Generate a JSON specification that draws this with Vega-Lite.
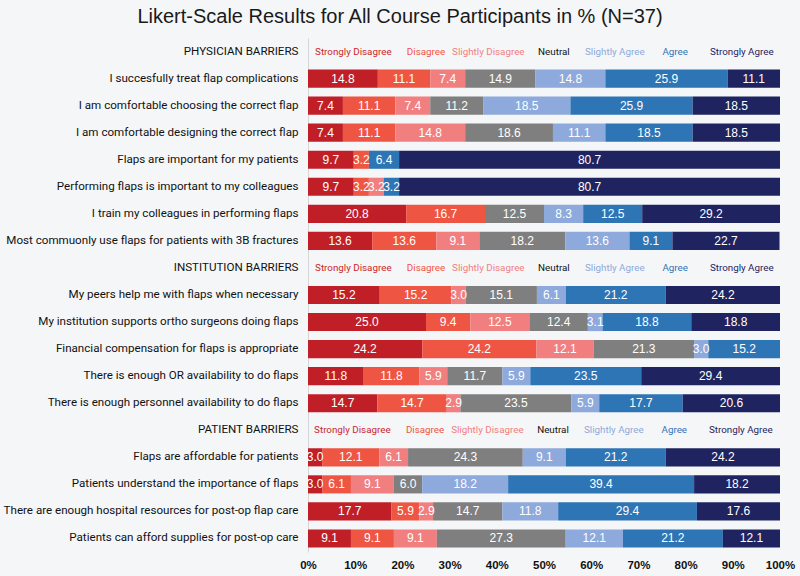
{
  "$schema": "https://vega.github.io/schema/vega-lite/v6.json",
  "width": 472,
  "height": 514,
  "autosize": {"type": "none"},
  "padding": {"left": 308, "top": 38, "right": 20, "bottom": 24},
  "background": "#F5F6F8",
  "title": {
    "text": "Likert-Scale Results for All Course Participants in % (N=37)",
    "font": "Liberation Sans",
    "fontSize": 20,
    "fontWeight": "normal",
    "color": "#1a1a1a",
    "anchor": "middle",
    "frame": "group",
    "dx": -144,
    "offset": 11
  },
  "config": {
    "view": {"stroke": null},
    "font": "Roboto"
  },
  "datasets": {
    "d": [
      {"q": "I succesfully treat flap complications", "c": "Strongly Disagree", "v": 14.8},
      {"q": "I succesfully treat flap complications", "c": "Disagree", "v": 11.1},
      {"q": "I succesfully treat flap complications", "c": "Slightly Disagree", "v": 7.4},
      {"q": "I succesfully treat flap complications", "c": "Neutral", "v": 14.9},
      {"q": "I succesfully treat flap complications", "c": "Slightly Agree", "v": 14.8},
      {"q": "I succesfully treat flap complications", "c": "Agree", "v": 25.9},
      {"q": "I succesfully treat flap complications", "c": "Strongly Agree", "v": 11.1},

      {"q": "I am comfortable choosing the correct flap", "c": "Strongly Disagree", "v": 7.4},
      {"q": "I am comfortable choosing the correct flap", "c": "Disagree", "v": 11.1},
      {"q": "I am comfortable choosing the correct flap", "c": "Slightly Disagree", "v": 7.4},
      {"q": "I am comfortable choosing the correct flap", "c": "Neutral", "v": 11.2},
      {"q": "I am comfortable choosing the correct flap", "c": "Slightly Agree", "v": 18.5},
      {"q": "I am comfortable choosing the correct flap", "c": "Agree", "v": 25.9},
      {"q": "I am comfortable choosing the correct flap", "c": "Strongly Agree", "v": 18.5},

      {"q": "I am comfortable designing the correct flap", "c": "Strongly Disagree", "v": 7.4},
      {"q": "I am comfortable designing the correct flap", "c": "Disagree", "v": 11.1},
      {"q": "I am comfortable designing the correct flap", "c": "Slightly Disagree", "v": 14.8},
      {"q": "I am comfortable designing the correct flap", "c": "Neutral", "v": 18.6},
      {"q": "I am comfortable designing the correct flap", "c": "Slightly Agree", "v": 11.1},
      {"q": "I am comfortable designing the correct flap", "c": "Agree", "v": 18.5},
      {"q": "I am comfortable designing the correct flap", "c": "Strongly Agree", "v": 18.5},

      {"q": "Flaps are important for my patients", "c": "Strongly Disagree", "v": 9.7},
      {"q": "Flaps are important for my patients", "c": "Disagree", "v": 3.2},
      {"q": "Flaps are important for my patients", "c": "Agree", "v": 6.4},
      {"q": "Flaps are important for my patients", "c": "Strongly Agree", "v": 80.7},

      {"q": "Performing flaps is important to my colleagues", "c": "Strongly Disagree", "v": 9.7},
      {"q": "Performing flaps is important to my colleagues", "c": "Disagree", "v": 3.2},
      {"q": "Performing flaps is important to my colleagues", "c": "Slightly Disagree", "v": 3.2},
      {"q": "Performing flaps is important to my colleagues", "c": "Agree", "v": 3.2},
      {"q": "Performing flaps is important to my colleagues", "c": "Strongly Agree", "v": 80.7},

      {"q": "I train my colleagues in performing flaps", "c": "Strongly Disagree", "v": 20.8},
      {"q": "I train my colleagues in performing flaps", "c": "Disagree", "v": 16.7},
      {"q": "I train my colleagues in performing flaps", "c": "Neutral", "v": 12.5},
      {"q": "I train my colleagues in performing flaps", "c": "Slightly Agree", "v": 8.3},
      {"q": "I train my colleagues in performing flaps", "c": "Agree", "v": 12.5},
      {"q": "I train my colleagues in performing flaps", "c": "Strongly Agree", "v": 29.2},

      {"q": "Most commuonly use flaps for patients with 3B fractures", "c": "Strongly Disagree", "v": 13.6},
      {"q": "Most commuonly use flaps for patients with 3B fractures", "c": "Disagree", "v": 13.6},
      {"q": "Most commuonly use flaps for patients with 3B fractures", "c": "Slightly Disagree", "v": 9.1},
      {"q": "Most commuonly use flaps for patients with 3B fractures", "c": "Neutral", "v": 18.2},
      {"q": "Most commuonly use flaps for patients with 3B fractures", "c": "Slightly Agree", "v": 13.6},
      {"q": "Most commuonly use flaps for patients with 3B fractures", "c": "Agree", "v": 9.1},
      {"q": "Most commuonly use flaps for patients with 3B fractures", "c": "Strongly Agree", "v": 22.7},

      {"q": "My peers help me with flaps when necessary", "c": "Strongly Disagree", "v": 15.2},
      {"q": "My peers help me with flaps when necessary", "c": "Disagree", "v": 15.2},
      {"q": "My peers help me with flaps when necessary", "c": "Slightly Disagree", "v": 3.0},
      {"q": "My peers help me with flaps when necessary", "c": "Neutral", "v": 15.1},
      {"q": "My peers help me with flaps when necessary", "c": "Slightly Agree", "v": 6.1},
      {"q": "My peers help me with flaps when necessary", "c": "Agree", "v": 21.2},
      {"q": "My peers help me with flaps when necessary", "c": "Strongly Agree", "v": 24.2},

      {"q": "My institution supports ortho surgeons doing flaps", "c": "Strongly Disagree", "v": 25.0},
      {"q": "My institution supports ortho surgeons doing flaps", "c": "Disagree", "v": 9.4},
      {"q": "My institution supports ortho surgeons doing flaps", "c": "Slightly Disagree", "v": 12.5},
      {"q": "My institution supports ortho surgeons doing flaps", "c": "Neutral", "v": 12.4},
      {"q": "My institution supports ortho surgeons doing flaps", "c": "Slightly Agree", "v": 3.1},
      {"q": "My institution supports ortho surgeons doing flaps", "c": "Agree", "v": 18.8},
      {"q": "My institution supports ortho surgeons doing flaps", "c": "Strongly Agree", "v": 18.8},

      {"q": "Financial compensation for flaps is appropriate", "c": "Strongly Disagree", "v": 24.2},
      {"q": "Financial compensation for flaps is appropriate", "c": "Disagree", "v": 24.2},
      {"q": "Financial compensation for flaps is appropriate", "c": "Slightly Disagree", "v": 12.1},
      {"q": "Financial compensation for flaps is appropriate", "c": "Neutral", "v": 21.3},
      {"q": "Financial compensation for flaps is appropriate", "c": "Slightly Agree", "v": 3.0},
      {"q": "Financial compensation for flaps is appropriate", "c": "Agree", "v": 15.2},

      {"q": "There is enough OR availability to do flaps", "c": "Strongly Disagree", "v": 11.8},
      {"q": "There is enough OR availability to do flaps", "c": "Disagree", "v": 11.8},
      {"q": "There is enough OR availability to do flaps", "c": "Slightly Disagree", "v": 5.9},
      {"q": "There is enough OR availability to do flaps", "c": "Neutral", "v": 11.7},
      {"q": "There is enough OR availability to do flaps", "c": "Slightly Agree", "v": 5.9},
      {"q": "There is enough OR availability to do flaps", "c": "Agree", "v": 23.5},
      {"q": "There is enough OR availability to do flaps", "c": "Strongly Agree", "v": 29.4},

      {"q": "There is enough personnel availability to do flaps", "c": "Strongly Disagree", "v": 14.7},
      {"q": "There is enough personnel availability to do flaps", "c": "Disagree", "v": 14.7},
      {"q": "There is enough personnel availability to do flaps", "c": "Slightly Disagree", "v": 2.9},
      {"q": "There is enough personnel availability to do flaps", "c": "Neutral", "v": 23.5},
      {"q": "There is enough personnel availability to do flaps", "c": "Slightly Agree", "v": 5.9},
      {"q": "There is enough personnel availability to do flaps", "c": "Agree", "v": 17.7},
      {"q": "There is enough personnel availability to do flaps", "c": "Strongly Agree", "v": 20.6},

      {"q": "Flaps are affordable for patients", "c": "Strongly Disagree", "v": 3.0},
      {"q": "Flaps are affordable for patients", "c": "Disagree", "v": 12.1},
      {"q": "Flaps are affordable for patients", "c": "Slightly Disagree", "v": 6.1},
      {"q": "Flaps are affordable for patients", "c": "Neutral", "v": 24.3},
      {"q": "Flaps are affordable for patients", "c": "Slightly Agree", "v": 9.1},
      {"q": "Flaps are affordable for patients", "c": "Agree", "v": 21.2},
      {"q": "Flaps are affordable for patients", "c": "Strongly Agree", "v": 24.2},

      {"q": "Patients understand the importance of flaps", "c": "Strongly Disagree", "v": 3.0},
      {"q": "Patients understand the importance of flaps", "c": "Disagree", "v": 6.1},
      {"q": "Patients understand the importance of flaps", "c": "Slightly Disagree", "v": 9.1},
      {"q": "Patients understand the importance of flaps", "c": "Neutral", "v": 6.0},
      {"q": "Patients understand the importance of flaps", "c": "Slightly Agree", "v": 18.2},
      {"q": "Patients understand the importance of flaps", "c": "Agree", "v": 39.4},
      {"q": "Patients understand the importance of flaps", "c": "Strongly Agree", "v": 18.2},

      {"q": "There are enough hospital resources for post-op flap care", "c": "Strongly Disagree", "v": 17.7},
      {"q": "There are enough hospital resources for post-op flap care", "c": "Disagree", "v": 5.9},
      {"q": "There are enough hospital resources for post-op flap care", "c": "Slightly Disagree", "v": 2.9},
      {"q": "There are enough hospital resources for post-op flap care", "c": "Neutral", "v": 14.7},
      {"q": "There are enough hospital resources for post-op flap care", "c": "Slightly Agree", "v": 11.8},
      {"q": "There are enough hospital resources for post-op flap care", "c": "Agree", "v": 29.4},
      {"q": "There are enough hospital resources for post-op flap care", "c": "Strongly Agree", "v": 17.6},

      {"q": "Patients can afford supplies for post-op care", "c": "Strongly Disagree", "v": 9.1},
      {"q": "Patients can afford supplies for post-op care", "c": "Disagree", "v": 9.1},
      {"q": "Patients can afford supplies for post-op care", "c": "Slightly Disagree", "v": 9.1},
      {"q": "Patients can afford supplies for post-op care", "c": "Neutral", "v": 27.3},
      {"q": "Patients can afford supplies for post-op care", "c": "Slightly Agree", "v": 12.1},
      {"q": "Patients can afford supplies for post-op care", "c": "Agree", "v": 21.2},
      {"q": "Patients can afford supplies for post-op care", "c": "Strongly Agree", "v": 12.1}
    ],
    "leg": [
      {"h": "PHYSICIAN BARRIERS", "c": "Strongly Disagree", "p": 9.6},
      {"h": "PHYSICIAN BARRIERS", "c": "Disagree", "p": 25.0},
      {"h": "PHYSICIAN BARRIERS", "c": "Slightly Disagree", "p": 38.2},
      {"h": "PHYSICIAN BARRIERS", "c": "Neutral", "p": 52.1},
      {"h": "PHYSICIAN BARRIERS", "c": "Slightly Agree", "p": 65.0},
      {"h": "PHYSICIAN BARRIERS", "c": "Agree", "p": 77.8},
      {"h": "PHYSICIAN BARRIERS", "c": "Strongly Agree", "p": 91.9},
      {"h": "INSTITUTION BARRIERS", "c": "Strongly Disagree", "p": 9.6},
      {"h": "INSTITUTION BARRIERS", "c": "Disagree", "p": 25.0},
      {"h": "INSTITUTION BARRIERS", "c": "Slightly Disagree", "p": 38.2},
      {"h": "INSTITUTION BARRIERS", "c": "Neutral", "p": 52.1},
      {"h": "INSTITUTION BARRIERS", "c": "Slightly Agree", "p": 65.0},
      {"h": "INSTITUTION BARRIERS", "c": "Agree", "p": 77.8},
      {"h": "INSTITUTION BARRIERS", "c": "Strongly Agree", "p": 91.9},
      {"h": "PATIENT BARRIERS", "c": "Strongly Disagree", "p": 9.4},
      {"h": "PATIENT BARRIERS", "c": "Disagree", "p": 24.8},
      {"h": "PATIENT BARRIERS", "c": "Slightly Disagree", "p": 38.0},
      {"h": "PATIENT BARRIERS", "c": "Neutral", "p": 51.9},
      {"h": "PATIENT BARRIERS", "c": "Slightly Agree", "p": 64.8},
      {"h": "PATIENT BARRIERS", "c": "Agree", "p": 77.6},
      {"h": "PATIENT BARRIERS", "c": "Strongly Agree", "p": 91.7}
    ]
  },
  "encoding": {
    "y": {
      "field": "q",
      "type": "nominal",
      "scale": {
        "domain": [
          "PHYSICIAN BARRIERS",
          "I succesfully treat flap complications",
          "I am comfortable choosing the correct flap",
          "I am comfortable designing the correct flap",
          "Flaps are important for my patients",
          "Performing flaps is important to my colleagues",
          "I train my colleagues in performing flaps",
          "Most commuonly use flaps for patients with 3B fractures",
          "INSTITUTION BARRIERS",
          "My peers help me with flaps when necessary",
          "My institution supports ortho surgeons doing flaps",
          "Financial compensation for flaps is appropriate",
          "There is enough OR availability to do flaps",
          "There is enough personnel availability to do flaps",
          "PATIENT BARRIERS",
          "Flaps are affordable for patients",
          "Patients understand the importance of flaps",
          "There are enough hospital resources for post-op flap care",
          "Patients can afford supplies for post-op care"
        ],
        "paddingInner": 0.33,
        "paddingOuter": 0.165
      },
      "axis": {
        "title": null,
        "ticks": false,
        "domain": true,
        "domainColor": "#d4d6da",
        "domainWidth": 1,
        "labelFont": "Roboto",
        "labelFontSize": 11.6,
        "labelColor": "#111111",
        "labelPadding": 10,
        "labelLimit": 320
      }
    }
  },
  "layer": [
    {
      "data": {"name": "d"},
      "transform": [
        {"calculate": "indexof(['Strongly Disagree','Disagree','Slightly Disagree','Neutral','Slightly Agree','Agree','Strongly Agree'], datum.c)", "as": "k"},
        {"stack": "v", "groupby": ["q"], "sort": [{"field": "k", "order": "ascending"}], "as": ["x0", "x1"]}
      ],
      "mark": {"type": "bar"},
      "encoding": {
        "x": {
          "field": "x0",
          "type": "quantitative",
          "scale": {"domain": [0, 100], "nice": false},
          "axis": {
            "title": null,
            "values": [0, 10, 20, 30, 40, 50, 60, 70, 80, 90, 100],
            "labelExpr": "datum.value + '%'",
            "labelFlush": false,
            "labelOverlap": false,
            "grid": false,
            "domain": false,
            "ticks": false,
            "labelPadding": 7,
            "labelFont": "Liberation Sans",
            "labelFontSize": 11.5,
            "labelFontWeight": "bold",
            "labelColor": "#111111"
          }
        },
        "x2": {"field": "x1"},
        "color": {
          "field": "c",
          "type": "nominal",
          "scale": {
            "domain": ["Strongly Disagree", "Disagree", "Slightly Disagree", "Neutral", "Slightly Agree", "Agree", "Strongly Agree"],
            "range": ["#C01F28", "#EF5543", "#F17F7F", "#7F7F7F", "#8EA9DB", "#2E75B6", "#1F2460"]
          },
          "legend": null
        }
      }
    },
    {
      "data": {"name": "d"},
      "transform": [
        {"calculate": "indexof(['Strongly Disagree','Disagree','Slightly Disagree','Neutral','Slightly Agree','Agree','Strongly Agree'], datum.c)", "as": "k"},
        {"stack": "v", "groupby": ["q"], "sort": [{"field": "k", "order": "ascending"}], "as": ["x0", "x1"]},
        {"calculate": "(datum.x0 + datum.x1) / 2", "as": "xm"}
      ],
      "mark": {"type": "text", "color": "#ffffff", "font": "Liberation Sans", "fontSize": 12, "align": "center", "baseline": "middle"},
      "encoding": {
        "x": {"field": "xm", "type": "quantitative"},
        "text": {"field": "v", "type": "quantitative", "format": ".1f"}
      }
    },
    {
      "data": {"name": "leg"},
      "mark": {"type": "text", "font": "Roboto", "fontSize": 9.8, "align": "center", "baseline": "middle"},
      "encoding": {
        "x": {"field": "p", "type": "quantitative"},
        "y": {"field": "h", "type": "nominal"},
        "text": {"field": "c", "type": "nominal"},
        "color": {
          "field": "c",
          "type": "nominal",
          "scale": {
            "domain": ["Strongly Disagree", "Disagree", "Slightly Disagree", "Neutral", "Slightly Agree", "Agree", "Strongly Agree"],
            "range": ["#CC1F2C", "#EF5543", "#F17F7F", "#111111", "#8EA9DB", "#2E75B6", "#1F2460"]
          },
          "legend": null
        }
      }
    }
  ],
  "resolve": {"scale": {"color": "independent"}}
}
